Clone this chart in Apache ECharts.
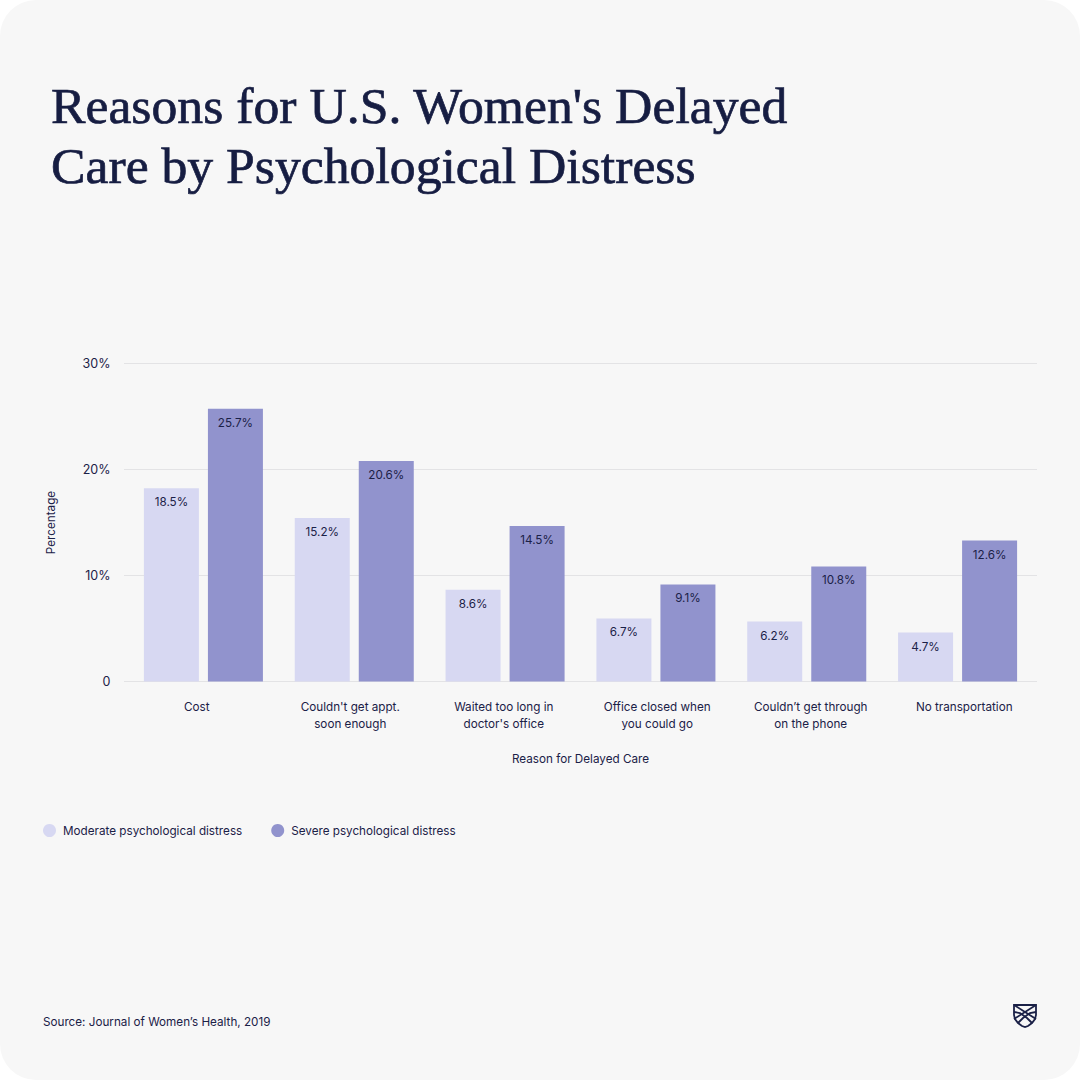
<!DOCTYPE html>
<html>
<head>
<meta charset="utf-8">
<style>
html,body{margin:0;padding:0;background:#fff;}
#chart{width:1080px;height:1080px;background:#f7f7f7;border-radius:36px;overflow:hidden;}
</style>
<script src="https://cdn.jsdelivr.net/npm/echarts@6/dist/echarts.min.js"></script>
</head>
<body>
<div id="chart"></div>
<script>
const categories = ["Cost","Couldn't get appt.\nsoon enough","Waited too long in\ndoctor's office","Office closed when\nyou could go","Couldn’t get through\non the phone","No transportation"];
// Bar heights as drawn in the picture (they differ slightly from the printed labels there)
const moderateHeights = [18.22,15.42,8.65,5.95,5.66,4.62];
const severeHeights = [25.74,20.8,14.66,9.16,10.86,13.3];
// Labels as printed
const moderateLabels = ["18.5%","15.2%","8.6%","6.7%","6.2%","4.7%"];
const severeLabels = ["25.7%","20.6%","14.5%","9.1%","10.8%","12.6%"];
const yTickLabels = ["0","10%","20%","30%"];
const seriesNames = ["Moderate psychological distress","Severe psychological distress"];
const ink = "#1b2147";
const titleInk = "#161d42";
const sans = "Inter, 'Noto Sans', sans-serif";
const smallSize = 11.7;
const barLabel = (texts) => ({
  show:true, position:"insideTop", distance:8, color:ink, fontFamily:sans, fontSize:smallSize,
  formatter:(p)=>texts[p.dataIndex]
});
const logoLine = (points) => ({type:"polyline",shape:{points},style:{fill:null,stroke:ink,lineWidth:1.8}});
const chart = echarts.init(document.getElementById("chart"), null, {renderer:"svg"});
chart.setOption({
  animation:false,
  backgroundColor:"transparent",
  title:[
    {text:"Reasons for U.S. Women's Delayed\nCare by Psychological Distress",left:51,top:75,padding:0,
     textStyle:{fontFamily:"'Liberation Serif',serif",fontWeight:"normal",fontSize:51.7,lineHeight:60,color:titleInk,textBorderColor:titleInk,textBorderWidth:0.7}},
    {text:"Source: Journal of Women’s Health, 2019",left:43,top:1015,padding:0,
     textStyle:{fontFamily:sans,fontWeight:"normal",fontSize:smallSize,lineHeight:14,color:ink}}
  ],
  legend:{left:43,top:824,padding:0,itemWidth:13,itemHeight:13,itemGap:29,icon:"circle",
    data:seriesNames,textStyle:{fontFamily:sans,fontSize:smallSize,color:ink,padding:[0,0,0,2]}},
  grid:[
    {left:124,width:913,top:363.5,height:318},
    {left:120,width:921,top:363.5,height:318},
    {left:128,width:905,top:363.5,height:318}
  ],
  xAxis:[
    {gridIndex:0,type:"category",data:categories,show:false},
    {gridIndex:1,type:"category",data:categories,
      axisLine:{show:false},axisTick:{show:false},
      axisLabel:{interval:0,margin:17,color:ink,fontFamily:sans,fontSize:smallSize,lineHeight:17},
      name:"Reason for Delayed Care",nameLocation:"middle",nameGap:71,
      nameTextStyle:{color:ink,fontFamily:sans,fontSize:smallSize}},
    {gridIndex:2,type:"category",data:categories,show:false}
  ],
  yAxis:[
    {gridIndex:0,type:"value",min:0,max:30,interval:10,
      axisLine:{show:false},axisTick:{show:false},
      splitLine:{show:true,lineStyle:{color:"#e3e3e5",width:1}},
      axisLabel:{margin:13.5,color:ink,fontFamily:sans,fontSize:12.5,formatter:(v)=>yTickLabels[v/10]},
      name:"Percentage",nameLocation:"middle",nameGap:67,nameRotate:90,
      nameTextStyle:{color:ink,fontFamily:sans,fontSize:smallSize}},
    {gridIndex:1,type:"value",min:0,max:30,interval:10,show:false},
    {gridIndex:2,type:"value",min:0,max:30,interval:10,show:false}
  ],
  series:[
    {name:seriesNames[0],type:"bar",xAxisIndex:2,yAxisIndex:2,data:moderateHeights,barWidth:55,barGap:"16.4%",
      itemStyle:{color:"#d7d8f2"},label:barLabel(moderateLabels)},
    {name:seriesNames[1],type:"bar",xAxisIndex:2,yAxisIndex:2,data:severeHeights,barWidth:55,barGap:"16.4%",
      itemStyle:{color:"#9193cd"},label:barLabel(severeLabels)}
  ],
  graphic:[
    {type:"group",x:1013,y:1004,children:[
      {type:"polygon",shape:{points:[[1,1],[23,1],[23,11],[22,15],[19,19],[15,22],[12,23],[9,22],[5,19],[2,15],[1,11]]},style:{fill:null,stroke:ink,lineWidth:1.8}},
      logoLine([[1,1],[23,15]]),
      logoLine([[23,1],[1,15]]),
      logoLine([[1,8],[7,9],[14,14],[19,19]]),
      logoLine([[23,8],[17,9],[10,14],[5,19]])
    ]}
  ]
});
</script>
</body>
</html>
